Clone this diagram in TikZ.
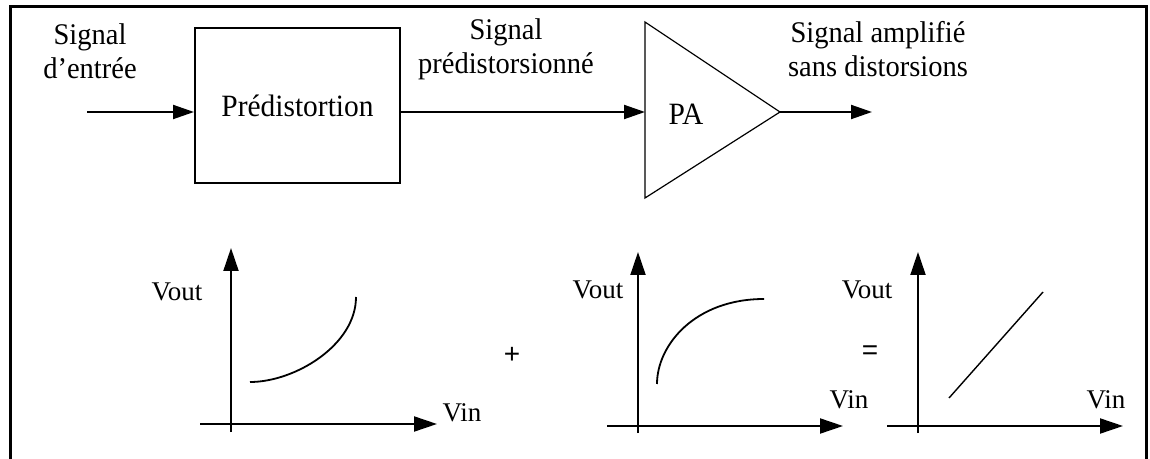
\documentclass[tikz,border=0pt]{standalone}
\usepackage{fontspec}
\setmainfont[FakeStretch=0.95]{Liberation Serif}
\newfontfamily\plainserif{Liberation Serif}
\newfontfamily\sansf{Liberation Sans}
\usetikzlibrary{arrows.meta}
\begin{document}
\begin{tikzpicture}[x=0.5pt,y=-0.5pt,
  conn/.style={line width=1pt,-{Triangle[length=10.5pt,width=7pt]}},
  axisarrow/.style={line width=1pt,-{Triangle[length=11.5pt,width=7.5pt]}},
  curve/.style={line width=0.9pt},
  lbl/.style={font=\fontsize{15}{17}\selectfont, align=center, inner sep=0pt},
  axlbl/.style={font=\plainserif\fontsize{13.5}{15}\selectfont, inner sep=0pt},
  op/.style={font=\sansf\fontsize{14}{16}\selectfont, inner sep=0pt}]
\useasboundingbox (0,0) rectangle (1150,459);
\clip (0,0) rectangle (1150,459);
% frame
\draw[line width=1.5pt] (10.5,480) -- (10.5,6.5) -- (1146,6.5) -- (1146,480);

% top chain
\node[draw, line width=1pt, minimum width=102.5pt, minimum height=77.5pt, inner sep=0pt,
      font=\fontsize{15.5}{17}\selectfont] (pred) at (297.5,105.5) {Prédistortion};
\coordinate (in) at (87,112);
\coordinate (paT) at (645,22);
\coordinate (paB) at (645,198);
\coordinate (paA) at (780,112);
\coordinate (paIn) at (645,112);
\coordinate (out) at (872,112);
\draw[line width=0.6pt] (paT) -- (paA) -- (paB) -- cycle;
\node[font=\fontsize{15.5}{17}\selectfont, inner sep=0pt] (pa) at (686,114) {PA};

\draw[conn] (in) -- (pred.west |- in);
\draw[conn] (pred.east |- in) -- (paIn);
\draw[conn] (paA) -- (out);

\node[lbl] (l1) at (90,51) {Signal\\d’entrée};
\node[lbl] (l2) at (506,49) {Signal\\prédistorsionné};
\node[lbl] (l3) at (878,49) {Signal amplifié\\sans distorsions};

% graph 1
\coordinate (g1y0) at (231,432); \coordinate (g1y1) at (231,248);
\coordinate (g1x0) at (200,424); \coordinate (g1x1) at (437,424);
\draw[axisarrow] (g1y0) -- (g1y1);
\draw[axisarrow] (g1x0) -- (g1x1);
\coordinate (c1a) at (250,382); \coordinate (c1b) at (356,297);
\draw[curve] (c1a) .. controls (295,382) and (356,345) .. (c1b);
\node[axlbl] (v1o) at (177,292) {Vout};
\node[axlbl] (v1i) at (462,413) {Vin};

\node[op] (plus) at (512,355) {+};

% graph 2
\coordinate (g2y0) at (638,433); \coordinate (g2y1) at (638,252);
\coordinate (g2x0) at (607,426); \coordinate (g2x1) at (843,426);
\draw[axisarrow] (g2y0) -- (g2y1);
\draw[axisarrow] (g2x0) -- (g2x1);
\coordinate (c2a) at (657,384); \coordinate (c2b) at (764,299);
\draw[curve] (c2a) .. controls (657,345) and (695,299) .. (c2b);
\node[axlbl] (v2o) at (598,290) {Vout};
\node[axlbl] (v2i) at (849,400) {Vin};

\node[op] (eq) at (870,353) {=};

% graph 3
\coordinate (g3y0) at (918,433); \coordinate (g3y1) at (918,252);
\coordinate (g3x0) at (887,426); \coordinate (g3x1) at (1123,426);
\draw[axisarrow] (g3y0) -- (g3y1);
\draw[axisarrow] (g3x0) -- (g3x1);
\coordinate (c3a) at (949,398); \coordinate (c3b) at (1043,292);
\draw[line width=0.7pt] (c3a) -- (c3b);
\node[axlbl] (v3o) at (867,290) {Vout};
\node[axlbl] (v3i) at (1106,400) {Vin};
\end{tikzpicture}
\end{document}
